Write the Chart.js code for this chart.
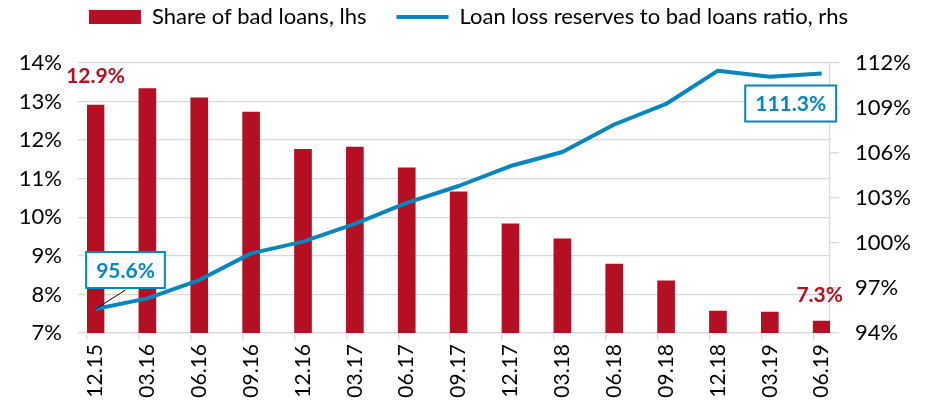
<!DOCTYPE html>
<html><head><meta charset="utf-8">
<script src="https://cdn.jsdelivr.net/npm/chart.js@4.4.1/dist/chart.umd.min.js"></script>
<style>html,body{margin:0;padding:0;background:#fff;overflow:hidden}#wrap{width:937px;height:415px}</style>
</head><body><div id="wrap"><canvas id="c" width="937" height="415"></canvas></div>
<script>
const categories = ['12.15','03.16','06.16','09.16','12.16','03.17','06.17','09.17','12.17','03.18','06.18','09.18','12.18','03.19','06.19'];
const badLoansShare = [12.91,13.34,13.10,12.73,11.76,11.82,11.28,10.66,9.83,9.44,8.79,8.35,7.57,7.54,7.31];
const reserveRatio = [95.6,96.31,97.53,99.31,100.09,101.27,102.67,103.8,105.13,106.07,107.9,109.27,111.49,111.09,111.3];
const leftTicks = [7,8,9,10,11,12,13,14];
const rightTicks = [94,97,100,103,106,109,112];
const seriesNames = ['Share of bad loans, lhs','Loan loss reserves to bad loans ratio, rhs'];

const RED = '#B50F24';
const BLUE = '#0785BD';
const GRID = '#D9D9D9';
const FONT = 'Lato';
const EDGE = 0.164;

const annotate = {
  id: 'annotate',
  afterDatasetsDraw(chart) {
    const ctx = chart.ctx;
    const x = chart.scales.x, yl = chart.scales.y, yr = chart.scales.y1;
    const n = categories.length - 1;
    ctx.save();
    ctx.textAlign = 'center';
    ctx.textBaseline = 'middle';
    ctx.font = 'bold 21px ' + FONT;
    ctx.fillStyle = RED;
    ctx.fillText(badLoansShare[0].toFixed(1) + '%', x.getPixelForValue(0), yl.getPixelForValue(badLoansShare[0]) - 29);
    ctx.fillText(badLoansShare[n].toFixed(1) + '%', x.getPixelForValue(n) - 2, yl.getPixelForValue(badLoansShare[n]) - 26);
    function box(px, py, dx, dy, text, leader) {
      const w = ctx.measureText(text).width + 20, h = 36;
      const cx = px + dx, cy = py + dy;
      if (leader) {
        ctx.strokeStyle = '#000'; ctx.lineWidth = 1;
        ctx.beginPath(); ctx.moveTo(px, py); ctx.lineTo(cx, cy + h / 2 + 2); ctx.stroke();
      }
      ctx.fillStyle = '#fff';
      ctx.fillRect(cx - w / 2, cy - h / 2, w, h);
      ctx.strokeStyle = BLUE; ctx.lineWidth = 2;
      ctx.strokeRect(cx - w / 2, cy - h / 2, w, h);
      ctx.fillStyle = BLUE;
      ctx.fillText(text, cx, cy + 1);
    }
    box(x.getPixelForValue(0), yr.getPixelForValue(reserveRatio[0]), 30, -39, reserveRatio[0].toFixed(1) + '%', true);
    box(x.getPixelForValue(n), yr.getPixelForValue(reserveRatio[n]), -31, 30, reserveRatio[n].toFixed(1) + '%', false);
    ctx.restore();
  }
};

const legendFix = {
  id: 'legendFix',
  beforeInit(chart) {
    const lg = chart.legend;
    const fit = lg.fit;
    lg.fit = function () { fit.call(this); this.height = 63; };
  },
  afterLayout(chart) {
    chart.legend.top = -24;
  }
};

new Chart(document.getElementById('c'), {
  data: {
    datasets: [
      {
        type: 'bar', label: seriesNames[0],
        data: badLoansShare.map((v, i) => ({x: i, y: v})),
        backgroundColor: RED, barThickness: 17, yAxisID: 'y', order: 1
      },
      {
        type: 'line', label: seriesNames[1],
        data: reserveRatio.map((v, i) => ({x: i, y: v})),
        borderColor: BLUE, backgroundColor: BLUE, borderWidth: 4, pointRadius: 0,
        tension: 0, yAxisID: 'y1', order: 0, borderJoinStyle: 'round'
      }
    ]
  },
  options: {
    responsive: false, animation: false, devicePixelRatio: 1,
    layout: {padding: 0},
    plugins: {
      tooltip: {enabled: false},
      legend: {
        position: 'top', align: 'center',
        labels: {
          usePointStyle: true, pointStyleWidth: 52, boxHeight: 14, padding: 30,
          color: '#000', font: {family: FONT, size: 22},
          sort: (a, b) => a.datasetIndex - b.datasetIndex,
          generateLabels(chart) {
            const items = Chart.defaults.plugins.legend.labels.generateLabels(chart);
            items.forEach(it => {
              if (it.datasetIndex === 0) { it.pointStyle = 'rect'; it.lineWidth = 0; it.fillStyle = RED; }
              else { it.pointStyle = 'line'; it.lineWidth = 4; it.strokeStyle = BLUE; }
            });
            return items;
          }
        }
      }
    },
    scales: {
      x: {
        type: 'linear', min: -EDGE, max: 14.16, offset: false,
        afterBuildTicks: s => { s.ticks = categories.map((c, i) => ({value: i - EDGE})); },
        afterFit: s => { s.height = 82; },
        ticks: {
          autoSkip: false, minRotation: 90, maxRotation: 90, labelOffset: 8.5, padding: 4,
          color: '#000', font: {family: FONT, size: 21},
          callback: (v, i) => categories[i]
        },
        grid: {offset: false, drawOnChartArea: false, drawTicks: true, tickLength: 7, color: GRID, lineWidth: 1.3},
        border: {display: true, color: GRID, width: 1.3}
      },
      y: {
        position: 'left', min: leftTicks[0], max: leftTicks[leftTicks.length - 1],
        afterBuildTicks: s => { s.ticks = leftTicks.map(v => ({value: v})); },
        afterFit: s => { s.width = 87; },
        ticks: {color: '#000', font: {family: FONT, size: 22}, padding: 16, callback: v => v + '%'},
        grid: {color: GRID, lineWidth: 1.3, tickLength: 9},
        border: {display: false}
      },
      y1: {
        position: 'right', min: rightTicks[0], max: rightTicks[rightTicks.length - 1],
        afterBuildTicks: s => { s.ticks = rightTicks.map(v => ({value: v})); },
        afterFit: s => { s.width = 107; },
        ticks: {color: '#000', font: {family: FONT, size: 22}, padding: 16, callback: v => v + '%'},
        grid: {drawOnChartArea: false, color: GRID, lineWidth: 1.3, tickLength: 9},
        border: {display: true, color: GRID, width: 1.3}
      }
    }
  },
  plugins: [legendFix, annotate]
});
</script>
</body></html>
